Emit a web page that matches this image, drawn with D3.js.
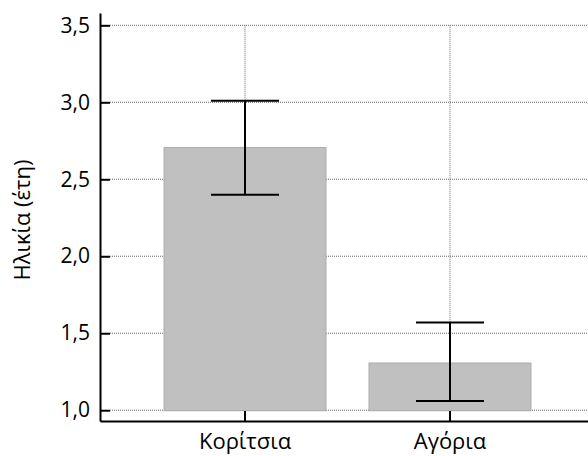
<!DOCTYPE html>
<html>
<head>
<meta charset="utf-8">
<script src="https://cdn.jsdelivr.net/npm/d3@7"></script>
<style>
  html, body { margin: 0; padding: 0; background: #fff; }
  svg { display: block; }
</style>
</head>
<body>
<svg id="chart" width="588" height="456"></svg>
<script>
const categories = ["Κορίτσια", "Αγόρια"];
const means = [2.71, 1.31];
const upper = [3.01, 1.57];
const lower = [2.40, 1.06];
const yTicks = [1.0, 1.5, 2.0, 2.5, 3.0, 3.5];
const yLabel = "Ηλικία (έτη)";

const FONT = "'Open Sans', sans-serif";
const svg = d3.select("#chart");
const W = 588, H = 456;

const x = d3.scaleBand().domain(categories).range([100, 595]).paddingInner(0.205).paddingOuter(0.31);
const y = d3.scaleLinear().domain([0.93, 3.58]).range([421, 13]);

const data = categories.map((c, i) => ({ c, m: means[i], hi: upper[i], lo: lower[i] }));

// grid
const grid = svg.append("g");
grid.selectAll("line.h").data(yTicks).join("line")
  .attr("x1", 110).attr("x2", W)
  .attr("y1", d => y(d)).attr("y2", d => y(d))
  .attr("stroke", "#666").attr("stroke-width", 1).attr("stroke-dasharray", "1,1");
grid.selectAll("line.v").data(categories).join("line")
  .attr("x1", d => x(d) + x.bandwidth() / 2).attr("x2", d => x(d) + x.bandwidth() / 2)
  .attr("y1", y(3.5)).attr("y2", y(1.0))
  .attr("stroke", "#666").attr("stroke-width", 1).attr("stroke-dasharray", "1,1");

// bars
svg.append("g").selectAll("rect").data(data).join("rect")
  .attr("x", d => x(d.c) + 0.5)
  .attr("width", x.bandwidth() - 1)
  .attr("y", d => y(d.m) + 0.5)
  .attr("height", d => y(1.0) - y(d.m))
  .attr("fill", "#c0c0c0").attr("stroke", "#ababab").attr("stroke-width", 1);

// error bars
const eb = svg.append("g").attr("stroke", "#000").attr("stroke-width", 2).attr("fill", "none");
const capW = 34;
data.forEach(d => {
  const cx = x(d.c) + x.bandwidth() / 2;
  eb.append("line").attr("x1", cx).attr("x2", cx).attr("y1", y(d.hi)).attr("y2", y(d.lo));
  eb.append("line").attr("x1", cx - capW).attr("x2", cx + capW).attr("y1", y(d.hi)).attr("y2", y(d.hi));
  eb.append("line").attr("x1", cx - capW).attr("x2", cx + capW).attr("y1", y(d.lo)).attr("y2", y(d.lo));
});

// axes
const fmt = v => d3.format(".1f")(v).replace(".", ",");
const yAxis = svg.append("g").attr("transform", "translate(100,0)")
  .call(d3.axisLeft(y).tickValues(yTicks).tickFormat(fmt).tickSizeInner(-10).tickSizeOuter(0).tickPadding(10));
const xAxis = svg.append("g").attr("transform", "translate(0,421)")
  .call(d3.axisBottom(x).tickSizeInner(-10).tickSizeOuter(0).tickPadding(12));

yAxis.attr("font-family", FONT).attr("font-size", 21);
xAxis.attr("font-family", FONT).attr("font-size", 22);
[yAxis, xAxis].forEach(a => {
  a.select(".domain").attr("stroke", "#000").attr("stroke-width", 2);
  a.selectAll(".tick line").attr("stroke", "#000").attr("stroke-width", 2);
  a.selectAll(".tick text").attr("fill", "#000");
});

svg.append("text")
  .attr("transform", `translate(30,${220}) rotate(-90)`)
  .attr("text-anchor", "middle")
  .attr("font-family", FONT).attr("font-size", 22).attr("fill", "#000")
  .text(yLabel);
</script>
</body>
</html>
